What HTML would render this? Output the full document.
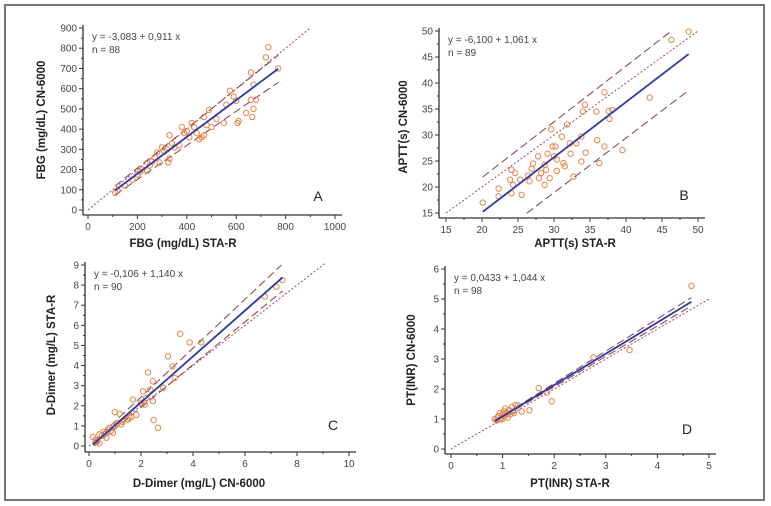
<!DOCTYPE html>
<html><head><meta charset="utf-8"><style>
html,body{margin:0;padding:0;background:#fff;}
svg{display:block;font-family:"Liberation Sans",sans-serif;}
.tk{font-size:10px;fill:#444;}
.ttl{font-size:11.5px;font-weight:bold;fill:#222;}
.eq{font-size:10px;fill:#444;}
.pl{font-size:14px;fill:#222;}
</style></head><body>
<svg id="fig" width="771" height="506" viewBox="0 0 771 506">
<rect x="5" y="5" width="759" height="495" fill="none" stroke="#777" stroke-width="2"/>
</svg>
<script>
// Panel A data (FBG)
const aX=[110,120,150,180,200,210,220,240,250,260,270,280,290,300,310,320,325,330,330,340,350,370,380,390,400,410,420,430,440,450,460,470,470,480,490,500,520,550,560,575,590,600,610,605,640,660,660,665,670,670,680,720,730,770];
const aY=[85,95,120,150,175,190,200,195,220,240,260,285,235,310,290,300,235,370,255,330,310,320,410,380,390,360,430,410,380,350,360,370,460,420,495,410,450,430,520,590,560,540,440,430,480,680,545,460,500,620,545,755,805,700];
const aTicksX=[0,200,400,600,800,1000];
const aTicksY=[0,100,200,300,400,500,600,700,800,900];
const aFit=[-3.083,0.911];
// Panel B data (APTT)
const bX=[20.1,22.3,22.3,23.9,24.1,24.6,24.3,24.1,25.5,25.3,26.4,26.6,26.9,27.1,27.8,27.9,28.2,28.7,28.7,29.1,28.9,29.4,29.6,29.8,30.0,30.2,30.4,30.4,31.1,31.3,31.5,31.8,32.2,32.3,32.7,33.1,33.8,33.8,34.0,34.3,34.4,35.9,36.0,36.3,37.0,37.0,37.6,37.7,38.1,39.5,43.3,46.3,48.7];
const bY=[17.0,18.2,19.7,21.4,23.3,22.7,20.4,18.8,18.5,21.4,22.2,21.1,23.5,24.5,25.9,21.7,22.7,24.3,20.4,26.4,23.3,21.7,31.1,27.8,25.9,27.8,25.3,23.1,29.7,24.6,24.0,32.0,28.4,26.4,22.0,28.4,29.7,24.9,34.5,35.8,26.6,34.5,29.0,24.6,38.2,27.8,34.6,33.1,34.8,27.1,37.2,48.3,49.9];
const bTicksX=[15,20,25,30,35,40,45,50];
const bTicksY=[15,20,25,30,35,40,45,50];
const bFit=[-6.1,1.061];
// Panel C data (D-Dimer)
const cX=[0.15,0.25,0.3,0.4,0.4,0.5,0.55,0.6,0.67,0.73,0.8,0.85,0.92,0.95,0.99,1.05,1.1,1.18,1.24,1.3,1.5,1.55,1.63,1.69,1.82,2.01,2.08,2.14,2.2,2.27,2.36,2.46,2.46,2.49,2.65,2.85,3.04,3.21,3.3,3.51,3.87,4.32,6.76,7.21,7.44];
const cY=[0.45,0.3,0.2,0.13,0.58,0.5,0.7,0.6,0.41,0.83,0.9,0.75,0.66,1.0,1.68,1.07,1.15,1.6,1.07,1.2,1.32,1.4,1.45,2.31,1.55,2.15,2.72,2.06,2.4,3.66,2.81,3.22,2.23,1.29,0.91,2.89,4.46,3.96,3.38,5.58,5.15,5.15,7.43,7.92,8.25];
const cTicksX=[0,2,4,6,8,10];
const cTicksY=[0,1,2,3,4,5,6,7,8,9];
const cFit=[-0.106,1.14];
// Panel D data (PT INR)
const dX=[0.85,0.88,0.9,0.92,0.95,0.95,0.98,1.0,1.0,1.02,1.05,1.05,1.08,1.1,1.12,1.15,1.18,1.2,1.22,1.25,1.3,1.37,1.52,1.7,1.86,1.95,2.76,3.46,4.66];
const dY=[1.0,0.95,1.05,1.1,0.98,1.2,1.05,1.15,1.0,1.25,1.1,1.35,1.2,1.05,1.3,1.15,1.4,1.25,1.2,1.47,1.45,1.25,1.29,2.03,1.88,1.59,3.05,3.30,5.44];
const dTicksX=[0,1,2,3,4,5];
const dTicksY=[0,1,2,3,4,5,6];
const dFit=[0.0433,1.044];

const NS='http://www.w3.org/2000/svg';
const svg=document.getElementById('fig');
function mk(tag,attrs,parent,text){const e=document.createElementNS(NS,tag);for(const k in attrs)e.setAttribute(k,attrs[k]);if(text!==undefined)e.textContent=text;(parent||svg).appendChild(e);return e;}

function panel(cfg,xs,ys,tx,ty,fit){
  const g=mk('g',{});
  
  
  const X=v=>cfg.x0+(v-tx[0])/(tx[tx.length-1]-tx[0])*(cfg.x1-cfg.x0);
  const Y=v=>cfg.y0-(v-ty[0])/(ty[ty.length-1]-ty[0])*(cfg.y0-cfg.y1);
  // axes
  const yax=mk('line',{x1:cfg.ax,y1:cfg.y1-3,x2:cfg.ax,y2:cfg.ay,stroke:'#333','stroke-width':1.3},g);
  
  const xax=mk('line',{x1:cfg.ax,y1:cfg.ay,x2:cfg.x1+7,y2:cfg.ay,stroke:'#333','stroke-width':1.3},g);
  
  tx.forEach((v,i)=>{const px=X(v);
    mk('line',{x1:px,y1:cfg.ay,x2:px,y2:cfg.ay+4,stroke:'#333'},g);
    if(i<tx.length-1)mk('line',{x1:(px+X(tx[i+1]))/2,y1:cfg.ay,x2:(px+X(tx[i+1]))/2,y2:cfg.ay+2,stroke:'#333'},g);
    const t=mk('text',{x:px,y:cfg.ay+15,'text-anchor':'middle',class:'tk'},g,String(v));
    });
  ty.forEach((v,i)=>{const py=Y(v);
    mk('line',{x1:cfg.ax-4,y1:py,x2:cfg.ax,y2:py,stroke:'#333'},g);
    if(i<ty.length-1)mk('line',{x1:cfg.ax-2,y1:(py+Y(ty[i+1]))/2,x2:cfg.ax,y2:(py+Y(ty[i+1]))/2,stroke:'#333'},g);
    const t=mk('text',{x:cfg.ax-6,y:py+3.5,'text-anchor':'end',class:'tk'},g,String(v));
    });
  // identity line
  const idA=cfg.idFrom, idB=cfg.idTo;
  const idl=mk('line',{x1:X(idA),y1:Y(idA),x2:X(idB),y2:Y(idB),stroke:'#a04a55','stroke-width':1,'stroke-dasharray':'2,2'},g);
  
  // CI lines
  const xmin=Math.min(...xs), xmax=Math.max(...xs);
  [1,-1].forEach(s=>{
    let a=xmin,b=xmax;
    const f=v=>fit[0]+fit[1]*v+s*(cfg.ci0+cfg.ci1*(v-xmin)/(xmax-xmin));
    const lo=ty[0],hi=ty[ty.length-1];
    // clip to y range
    if(f(a)<lo){a=a+(lo-f(a))/(fit[1]);}
    if(f(b)>hi){b=b-(f(b)-hi)/(fit[1]);}
    const c=mk('line',{x1:X(a),y1:Y(f(a)),x2:X(b),y2:Y(f(b)),stroke:'#8b3a4a','stroke-width':1,'stroke-dasharray':'8,4'},g);
    
  });
  // points
  xs.forEach((v,i)=>{const c=mk('circle',{cx:X(v),cy:Y(ys[i]),r:2.7,fill:'none',stroke:'#e8844a','stroke-width':1},g);
    });
  // regression
  const rl=mk('line',{x1:X(xmin),y1:Y(fit[0]+fit[1]*xmin),x2:X(xmax),y2:Y(fit[0]+fit[1]*xmax),stroke:'#2b3aa8','stroke-width':1.8},g);
  
  // texts
  const e1=mk('text',{x:cfg.ax+9,y:cfg.y1+12,class:'eq'},g,cfg.eq);
  
  const e2=mk('text',{x:cfg.ax+9,y:cfg.y1+25,class:'eq'},g,cfg.n);
  
  const pl=mk('text',{x:cfg.lx,y:cfg.ly,class:'pl','text-anchor':'middle'},g,cfg.label);
  
  const xt=mk('text',{x:cfg.xtx,y:cfg.xty,class:'ttl','text-anchor':'middle'},g,cfg.xt);
  
  const yt=mk('text',{x:0,y:0,class:'ttl','text-anchor':'middle',transform:`translate(${cfg.ytx},${cfg.yty}) rotate(-90)`},g,cfg.yt);
  
}

panel({name:'panel-a-fbg',x0:88,x1:335,y0:210,y1:28,ax:83,ay:215,idFrom:0,idTo:900,ci0:22,ci1:45,
  eq:'y = -3,083  + 0,911  x',n:'n = 88',label:'A',lx:318,ly:201,xt:'FBG (mg/dL) STA-R',xtx:183,xty:247,yt:'FBG (mg/dL) CN-6000',ytx:45,yty:120},aX,aY,aTicksX,aTicksY,aFit);
panel({name:'panel-b-aptt',x0:446,x1:698,y0:213,y1:31,ax:439,ay:218,idFrom:15,idTo:50,ci0:6.7,ci1:0.3,
  eq:'y = -6,100  + 1,061  x',n:'n = 89',label:'B',lx:684,ly:200,xt:'APTT(s) STA-R',xtx:575,xty:247,yt:'APTT(s) CN-6000',ytx:407,yty:127},bX,bY,bTicksX,bTicksY,bFit);
panel({name:'panel-c-ddimer',x0:89,x1:349,y0:446,y1:265,ax:85,ay:452,idFrom:0,idTo:9.1,ci0:0.12,ci1:0.55,
  eq:'y = -0,106  + 1,140  x',n:'n = 90',label:'C',lx:333,ly:430,xt:'D-Dimer (mg/L) CN-6000',xtx:199,xty:487,yt:'D-Dimer (mg/L) STA-R',ytx:55,yty:355},cX,cY,cTicksX,cTicksY,cFit);
panel({name:'panel-d-pt-inr',x0:451,x1:709,y0:449,y1:269,ax:445,ay:454,idFrom:0,idTo:5,ci0:0.02,ci1:0.12,
  eq:'y = 0,0433  + 1,044  x',n:'n = 98',label:'D',lx:687,ly:434,xt:'PT(INR) STA-R',xtx:570,xty:487,yt:'PT(INR) CN-6000',ytx:415,yty:360},dX,dY,dTicksX,dTicksY,dFit);
</script>
</body></html>
